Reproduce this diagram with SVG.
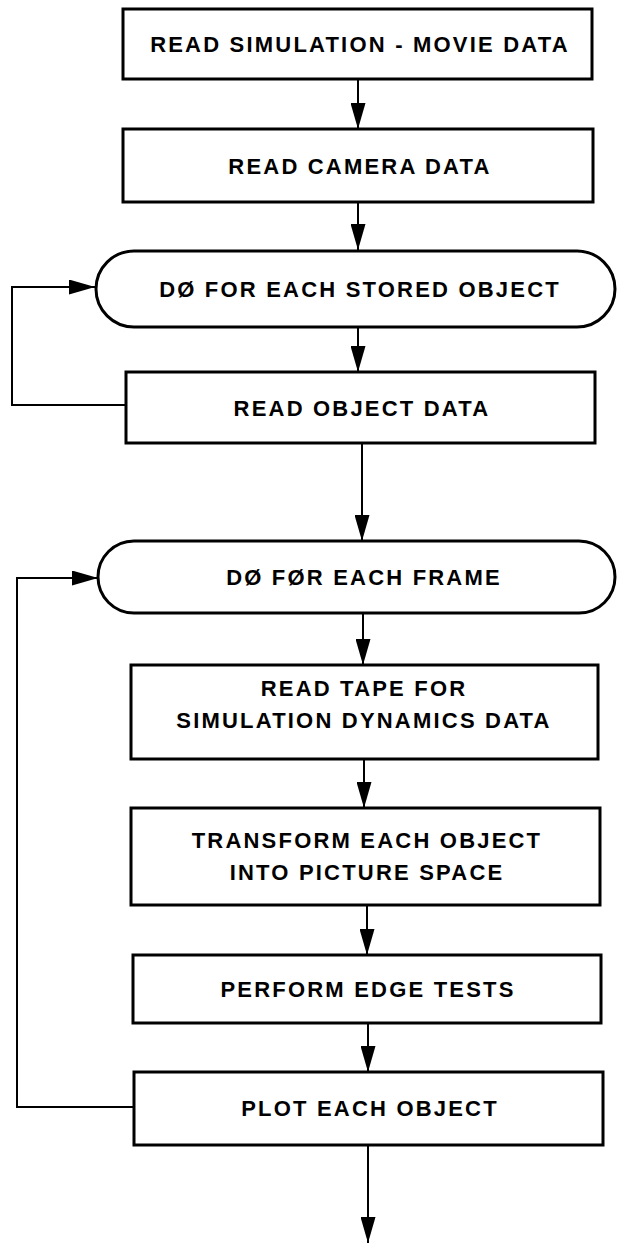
<svg xmlns="http://www.w3.org/2000/svg" width="618" height="1245" viewBox="0 0 618 1245">
<style>
.box{fill:#fff;stroke:#000;stroke-width:3}
.lbl{font-family:"Liberation Sans",Arial,sans-serif;font-weight:bold;font-size:22px;letter-spacing:2.2px;text-anchor:middle;fill:#000}
.con{fill:none;stroke:#000;stroke-width:2}
</style>
<defs>
<marker id="ah" viewBox="0 0 26 15" refX="26" refY="7.5" markerWidth="26" markerHeight="15" markerUnits="userSpaceOnUse" orient="auto">
<path d="M0,0 L26,7.5 L0,15 Z" fill="#000"/>
</marker>
</defs>
<rect width="618" height="1245" fill="#fff"/>
<g id="connectors">
<line class="con" x1="358" y1="79" x2="358" y2="129" marker-end="url(#ah)"/>
<line class="con" x1="358" y1="202" x2="358" y2="250" marker-end="url(#ah)"/>
<line class="con" x1="358" y1="327" x2="358" y2="372" marker-end="url(#ah)"/>
<line class="con" x1="362" y1="443" x2="362" y2="541" marker-end="url(#ah)"/>
<line class="con" x1="363" y1="613" x2="363" y2="665" marker-end="url(#ah)"/>
<line class="con" x1="364" y1="759" x2="364" y2="808" marker-end="url(#ah)"/>
<line class="con" x1="367" y1="905" x2="367" y2="955" marker-end="url(#ah)"/>
<line class="con" x1="368" y1="1023" x2="368" y2="1072" marker-end="url(#ah)"/>
<line class="con" x1="368" y1="1145" x2="368" y2="1243" marker-end="url(#ah)"/>
<polyline class="con" points="126,405 12,405 12,287 95,287" marker-end="url(#ah)"/>
<polyline class="con" points="134,1107 17,1107 17,578 98,578" marker-end="url(#ah)"/>
</g>
<g id="n1"><rect class="box" x="123" y="9" width="469" height="70"/><text class="lbl" x="360" y="52">READ SIMULATION - MOVIE DATA</text></g>
<g id="n2"><rect class="box" x="123" y="129" width="470" height="73"/><text class="lbl" x="360" y="174">READ CAMERA DATA</text></g>
<g id="n3"><rect class="box" x="96" y="251" width="519" height="76" rx="38" ry="38"/><text class="lbl" x="360" y="297">DØ FOR EACH STORED OBJECT</text></g>
<g id="n4"><rect class="box" x="126" y="372" width="469" height="71"/><text class="lbl" x="362" y="416">READ OBJECT DATA</text></g>
<g id="n5"><rect class="box" x="98" y="541" width="517" height="72" rx="36" ry="36"/><text class="lbl" x="364" y="585">DØ FØR EACH FRAME</text></g>
<g id="n6"><rect class="box" x="131" y="665" width="467" height="94"/><text class="lbl" x="364" y="696">READ TAPE FOR</text><text class="lbl" x="364" y="728">SIMULATION DYNAMICS DATA</text></g>
<g id="n7"><rect class="box" x="131" y="808" width="469" height="97"/><text class="lbl" x="367" y="848">TRANSFORM EACH OBJECT</text><text class="lbl" x="367" y="880">INTO PICTURE SPACE</text></g>
<g id="n8"><rect class="box" x="133" y="955" width="468" height="68"/><text class="lbl" x="368" y="997">PERFORM EDGE TESTS</text></g>
<g id="n9"><rect class="box" x="134" y="1072" width="469" height="73"/><text class="lbl" x="370" y="1116">PLOT EACH OBJECT</text></g>
</svg>
